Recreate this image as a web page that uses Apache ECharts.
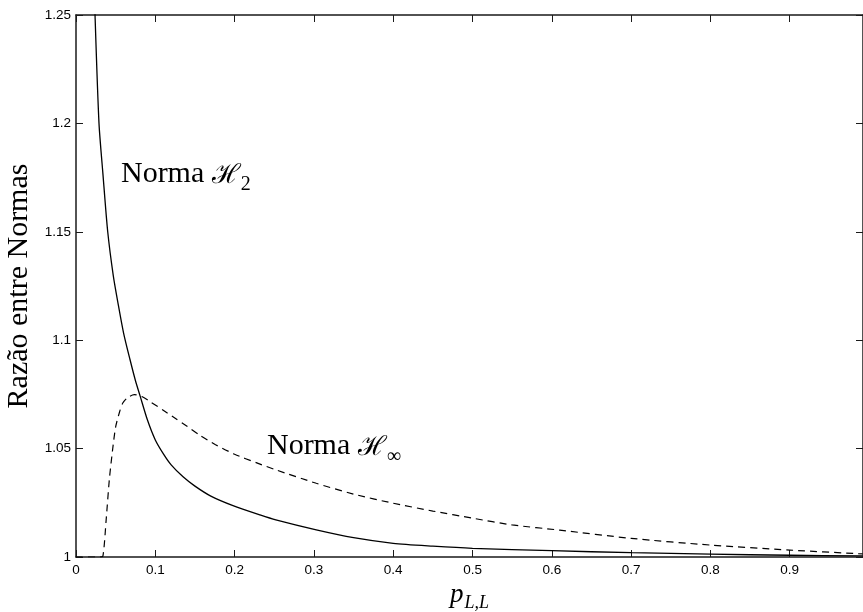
<!DOCTYPE html>
<html><head><meta charset="utf-8">
<script src="https://cdn.jsdelivr.net/npm/echarts@6/dist/echarts.min.js"></script>
<style>html,body{margin:0;padding:0;background:#fff}#c{width:863px;height:612px}</style>
</head><body><div id="c"></div>
<script>
// H2 norm ratio (solid)
const h2X = [0.021, 0.024, 0.029, 0.034, 0.040, 0.047, 0.053, 0.060, 0.068, 0.075, 0.081, 0.090, 0.100, 0.110, 0.120, 0.135, 0.150, 0.170, 0.198, 0.232, 0.252, 0.303, 0.350, 0.400, 0.450, 0.500, 0.600, 0.700, 0.800, 0.900, 0.992];
const h2Y = [1.29, 1.25, 1.20, 1.1765, 1.150, 1.1298, 1.117, 1.1033, 1.0912, 1.0813, 1.0741, 1.0633, 1.0540, 1.0477, 1.0425, 1.0370, 1.0327, 1.0281, 1.0237, 1.0194, 1.0171, 1.0125, 1.0089, 1.0063, 1.0050, 1.0040, 1.0029, 1.0020, 1.0013, 1.0008, 1.0005];
// H-infinity norm ratio (dashed)
const hinfX = [0.000, 0.030, 0.034, 0.038, 0.042, 0.046, 0.050, 0.055, 0.059, 0.065, 0.0735, 0.083, 0.095, 0.110, 0.126, 0.140, 0.156, 0.176, 0.200, 0.228, 0.252, 0.303, 0.350, 0.400, 0.450, 0.500, 0.550, 0.610, 0.700, 0.800, 0.900, 0.992];
const hinfY = [1.000, 1.000, 1.0005, 1.017, 1.0356, 1.049, 1.060, 1.067, 1.071, 1.0735, 1.0749, 1.0740, 1.0713, 1.0677, 1.0638, 1.0603, 1.0562, 1.0518, 1.0474, 1.0434, 1.0402, 1.0340, 1.0290, 1.0248, 1.0212, 1.0179, 1.0148, 1.0124, 1.0086, 1.0055, 1.0032, 1.0014];
const xTicks = [0, 0.1, 0.2, 0.3, 0.4, 0.5, 0.6, 0.7, 0.8, 0.9];
const yTicks = [1, 1.05, 1.1, 1.15, 1.2, 1.25];
const xMin = 0, xMax = 0.9924, yMin = 1, yMax = 1.25;
const yLabel = 'Razão entre Normas';
const labelH2 = {x: 0.0567, y: 1.1695};
const labelHinf = {x: 0.2408, y: 1.0440};

const zip = (a, b) => a.map((v, i) => [v, b[i]]);
const chart = echarts.init(document.getElementById('c'), null, {renderer: 'canvas'});
const lineC = '#1a1a1a';
const tickFont = {fontFamily: 'Liberation Sans, Arial, sans-serif', fontSize: 13.5, color: '#000'};
const baseX = {
  type: 'value', min: xMin, max: xMax,
  axisLine: {show: true, onZero: false, lineStyle: {color: lineC, width: 1.5}},
  axisTick: {show: true, inside: true, length: 7, customValues: xTicks, lineStyle: {color: lineC, width: 1}},
  splitLine: {show: false}
};
const baseY = {
  type: 'value', min: yMin, max: yMax,
  axisLine: {show: true, onZero: false, lineStyle: {color: lineC, width: 1.5}},
  axisTick: {show: true, inside: true, length: 7, customValues: yTicks, lineStyle: {color: lineC, width: 1}},
  splitLine: {show: false}
};
chart.setOption({
  animation: false,
  backgroundColor: '#fff',
  grid: {left: 76, top: 15, right: 0, bottom: 55, containLabel: false, outerBoundsMode: 'none'},
  xAxis: [
    Object.assign({}, baseX, {
      position: 'bottom',
      axisLabel: Object.assign({show: true, margin: 6, customValues: xTicks, formatter: v => String(v)}, tickFont),
      name: '{p|p}{s|L,L}', nameLocation: 'middle', nameGap: 20,
      nameTextStyle: {lineHeight: 26, rich: {
        p: {fontFamily: 'Liberation Serif, serif', fontStyle: 'italic', fontSize: 27, lineHeight: 26, color: '#000', verticalAlign: 'top'},
        s: {fontFamily: 'Liberation Serif, serif', fontStyle: 'italic', fontSize: 18, lineHeight: 20, color: '#000', verticalAlign: 'bottom', padding: [0, 0, -4, 1]}
      }}
    }),
    Object.assign({}, baseX, {position: 'top', axisLabel: {show: false}})
  ],
  yAxis: [
    Object.assign({}, baseY, {
      position: 'left',
      axisLabel: Object.assign({show: true, margin: 5, customValues: yTicks, formatter: v => String(v)}, tickFont),
      name: yLabel, nameLocation: 'middle', nameGap: 40,
      nameTextStyle: {fontFamily: 'Liberation Serif, serif', fontSize: 30, color: '#000'}
    }),
    Object.assign({}, baseY, {position: 'right', axisLabel: {show: false}})
  ],
  series: [
    {type: 'line', name: 'H2', data: zip(h2X, h2Y), showSymbol: false, symbol: 'none', smooth: 0.25, clip: true,
     lineStyle: {color: '#000', width: 1.3}},
    {type: 'line', name: 'Hinf', data: zip(hinfX, hinfY), showSymbol: false, symbol: 'none', smooth: 0.25, clip: true,
     lineStyle: {color: '#000', width: 1.2, type: [7, 5]}}
  ]
});
function annot(pt, sub) {
  const p = chart.convertToPixel({gridIndex: 0}, [pt.x, pt.y]);
  return {
    type: 'text', x: p[0], y: p[1],
    style: {
      text: '{n|Norma }{h|ℋ}{s|' + sub + '}',
      verticalAlign: 'bottom', align: 'left',
      rich: {
        n: {fontFamily: 'Liberation Serif, serif', fontSize: 30, fill: '#000', verticalAlign: 'bottom', lineHeight: 32},
        h: {fontFamily: 'DejaVu Serif, serif', fontSize: 27, fill: '#000', verticalAlign: 'bottom', lineHeight: 32},
        s: {fontFamily: 'Liberation Serif, serif', fontSize: 20, fill: '#000', verticalAlign: 'bottom', lineHeight: 32, padding: [0, 0, -5, 0]}
      }
    }
  };
}
chart.setOption({graphic: [annot(labelH2, '2'), annot(labelHinf, '∞')]});
</script></body></html>
